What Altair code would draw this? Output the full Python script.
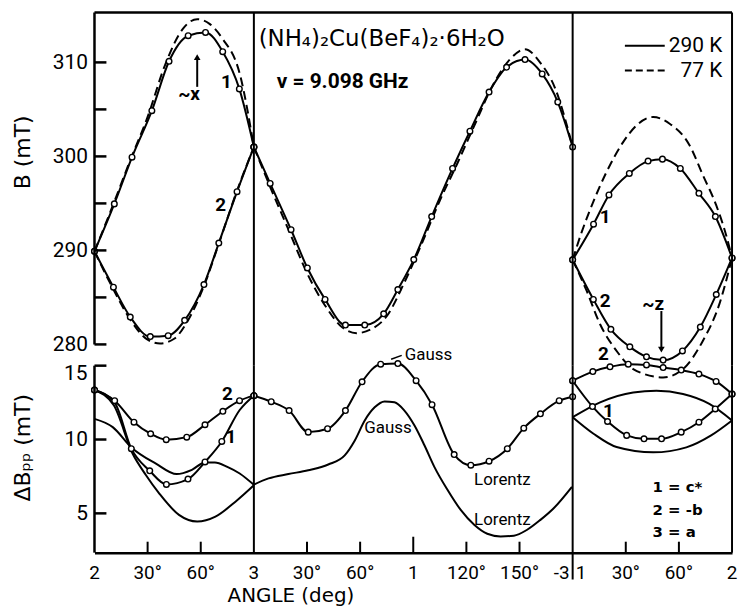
import altair as alt
import pandas as pd

# ---------------------------------------------------------------
# Angle axis (deg): 0-90 = rotation 2->3, 90-270 = 3->1->-3, 270-360 = 1->2
# ---------------------------------------------------------------
# Upper panel: resonance field B (mT)
# 290 K (solid, measured points)
b290_s1_c1_t = [0, 11.2, 21.2, 32.4, 42.1, 52.9, 62.7, 72.4, 81.8, 90]
b290_s1_c1_v = [289.9, 294.95, 299.92, 304.86, 310.12, 312.84, 313.19, 311.14, 307.18, 301.0]
b290_s1_c2_t = [0, 10.7, 20.2, 31.5, 41.6, 50.9, 61.8, 70.2, 80.5, 90]
b290_s1_c2_v = [289.9, 286.09, 282.91, 280.83, 280.93, 282.56, 286.37, 290.78, 296.25, 301.0]
b290_s2_t = [90, 99.2, 111.0, 120.2, 130.2, 141.7, 152.6, 163.3, 171.3, 180.3,
             190.4, 202.2, 212.0, 222.8, 232.7, 243.1, 252.8, 261.6, 270]
b290_s2_v = [301.0, 297.13, 292.20, 288.13, 284.79, 282.06, 282.06, 283.26, 285.84, 289.02,
             293.60, 298.72, 302.68, 306.84, 309.48, 310.30, 308.77, 305.78, 301.0]
b290_s3_c1_t = [270, 281.8, 290.5, 302.0, 312.6, 320.7, 330.8, 341.3, 350.6, 360]
b290_s3_c1_v = [289.0, 292.79, 295.90, 298.19, 299.50, 299.71, 298.72, 296.07, 293.60, 289.2]
b290_s3_c2_t = [270, 281.7, 291.6, 302.3, 311.7, 321.1, 332.0, 342.1, 351.1, 360]
b290_s3_c2_v = [289.0, 284.79, 281.61, 279.74, 278.68, 278.33, 279.31, 281.85, 285.31, 289.2]

# 77 K (dashed)
b77_s1_c1_t = [0, 10, 20, 30, 40, 50, 58, 65, 72, 82, 90]
b77_s1_c1_v = [289.9, 294.6, 299.5, 304.2, 309.8, 313.6, 314.6, 314.1, 312.6, 308.8, 301.0]
b77_s1_c2_t = [0, 10, 20, 30, 37, 45, 52, 62, 70, 80, 90]
b77_s1_c2_v = [289.9, 286.1, 282.7, 280.5, 280.1, 280.6, 282.3, 286.3, 290.6, 296.1, 301.0]
b77_s2_t = [90, 100, 110, 120, 130, 140, 148, 156, 165, 175, 185, 195, 205, 215,
            225, 235, 243, 252, 260, 270]
b77_s2_v = [301.0, 296.4, 292.0, 287.6, 284.2, 281.8, 281.2, 281.6, 283.0, 286.6, 290.8,
            295.3, 299.3, 303.5, 307.6, 310.4, 311.4, 309.9, 307.3, 301.0]
b77_s3_c1_t = [270, 275.2, 281.7, 289.2, 298.6, 306.1, 315.4, 324.8, 336, 343.5, 351, 356.6, 360]
b77_s3_c1_v = [289.0, 292.0, 295.19, 298.37, 301.54, 303.31, 304.19, 303.48, 301.19, 298.02,
               294.84, 291.67, 289.2]
b77_s3_c2_t = [270, 278, 285.5, 294.8, 304.2, 321.1, 332.3, 343.5, 352.8, 360]
b77_s3_c2_v = [289.0, 285.66, 282.14, 279.31, 277.38, 276.49, 277.38, 280.37, 284.26, 289.2]

# Lower panel: line width dBpp (mT)
# measured (circles); marks flag = 1 where a circle is drawn
dpp_s1_c2_t = [0, 11.4, 22.3, 31.7, 40.5, 52.1, 62.4, 72.5, 81.9, 90]
dpp_s1_c2_v = [13.35, 12.63, 11.17, 10.39, 9.99, 10.16, 11.0, 11.91, 12.63, 12.97]
dpp_s1_c1_t = [0, 11.4, 20.8, 31.2, 40.6, 52.8, 62.4, 71.9, 82.0, 90]
dpp_s1_c1_v = [13.35, 12.5, 9.38, 7.88, 6.96, 7.32, 8.48, 9.87, 12.0, 12.97]
dpp_s1_c1_m = [1, 0, 1, 1, 1, 1, 1, 1, 0, 1]
dpp_s2_t = [90, 99.8, 109.9, 120.7, 131.6, 141.7, 151.1, 161.6, 171.3, 181.6,
            190.6, 203.1, 212.5, 222.8, 233.1, 242.4, 251.8, 262.4, 270]
dpp_s2_v = [12.97, 12.56, 11.96, 10.50, 10.73, 11.96, 13.91, 15.10, 15.14, 13.98,
            12.36, 8.98, 8.26, 8.53, 9.38, 10.77, 11.74, 12.63, 12.90]
dpp_s3_c2_t = [270, 281.4, 291.1, 301.4, 311.7, 321.1, 331.3, 341.3, 351.0, 360]
dpp_s3_c2_v = [13.98, 14.60, 14.92, 15.10, 15.05, 14.87, 14.70, 14.43, 13.93, 13.08]
dpp_s3_c1_t = [270, 281.2, 289.7, 300.5, 310.3, 320.2, 331.3, 341.3, 350.5, 360]
dpp_s3_c1_v = [13.98, 12.23, 11.22, 10.28, 10.05, 10.05, 10.50, 11.17, 12.07, 13.08]

# calculated (plain curves, Gauss / Lorentz line shapes)
calc_s1_a_t = [0, 10.3, 21, 34.7, 46.4, 55, 62.4, 68, 75, 82, 90]
calc_s1_a_v = [11.4, 10.84, 9.45, 8.37, 7.66, 7.95, 8.45, 8.45, 8.15, 7.7, 6.93]
calc_s1_b_t = [0, 11, 21.5, 29, 36.5, 47.7, 58, 68.3, 79.6, 90]
calc_s1_b_v = [13.35, 12.3, 9.05, 7.6, 6.36, 4.9, 4.45, 4.78, 5.79, 6.9]
calc_s2_t = [90, 98.3, 109.5, 120.7, 132, 141.3, 147, 152.6, 158.2, 163.8, 169.4, 175,
             180.7, 186.3, 191.9, 199.4, 206.8, 214.4, 221.8, 229.3, 236.8, 244.3,
             251.8, 259.3, 269.6]
calc_s2_v = [6.95, 7.37, 7.66, 7.92, 8.31, 8.93, 9.94, 11.29, 12.18, 12.58, 12.52, 11.96,
             10.95, 9.61, 8.15, 6.58, 5.23, 4.23, 3.62, 3.44, 3.49, 3.89, 4.56, 5.35, 6.80]
calc_s3_up_t = [270, 285.5, 304.2, 317.3, 332.3, 347.2, 360]
calc_s3_up_v = [11.51, 12.52, 13.19, 13.30, 13.08, 12.41, 11.29]
calc_s3_lo_t = [270, 281.8, 294.8, 315.5, 334.2, 348.2, 360]
calc_s3_lo_v = [11.51, 10.39, 9.49, 9.13, 9.47, 10.28, 11.29]

# axes
B_RANGE = [277.74, 315.3]
D_RANGE = [2.34, 15.0]
b_tick_labels = [280, 290, 300, 310]
b_ticks = [280, 285, 290, 295, 300, 305, 310]
d_tick_labels = [5, 10]
d_top_label = 15
d_ticks = [5, 10, 15]
x_label_pos = [0, 30, 60, 90, 120, 150, 180, 210, 240, 300, 330, 360]
x_label_txt = ["2", "30°", "60°", "3", "30°", "60°", "1", "120°", "150°", "30°", "60°", "2"]
x_minor_ticks = [30, 60, 120, 150, 210, 240, 300, 330]
x_major_ticks = [180]
section_bounds = [90, 360]
boundary_pos = 270
boundary_left_txt = "-3"
boundary_right_txt = "1"

# annotations
ann_top = [  # text, t, value
    ("1", 74.5, 307.9), ("2", 71.2, 294.84), ("~x", 53.4, 306.65),
    ("1", 288.3, 293.6), ("2", 288.3, 284.6), ("~z", 315.5, 284.26),
]
title_txt = "(NH₄)₂Cu(BeF₄)₂·6H₂O"
freq_txt = "ν = 9.098 GHz"
legend_items = [("290 K", 311.78), ("77 K", 309.13)]
ann_bot = [("2", 75.1, 13.08), ("1", 77.0, 10.16), ("2", 287.4, 15.77), ("1", 290.2, 11.96)]
ann_shape = [("Gauss", 188.6, 15.73), ("Gauss", 165.7, 10.8), ("Lorentz", 230.3, 7.25),
             ("Lorentz", 230.3, 4.56)]
axes_key = [("1 =  c*", 6.80), ("2 = -b", 5.23), ("3 =  a", 3.77)]

# ---------------------------------------------------------------
W, H1, H2 = 641, 355, 188
FONT = "DejaVu Sans"
NFONT = "Roboto"
LW = 2.0
FW = 2.5


def frame(name, ts, vs, marks=None):
    return pd.DataFrame({"t": ts, "v": vs, "s": name,
                         "m": marks if marks is not None else [1] * len(ts)})


top_solid = pd.concat([
    frame("s1c1", b290_s1_c1_t, b290_s1_c1_v), frame("s1c2", b290_s1_c2_t, b290_s1_c2_v),
    frame("s2", b290_s2_t, b290_s2_v), frame("s3c1", b290_s3_c1_t, b290_s3_c1_v),
    frame("s3c2", b290_s3_c2_t, b290_s3_c2_v)])
top_dash = pd.concat([
    frame("s1c1", b77_s1_c1_t, b77_s1_c1_v), frame("s1c2", b77_s1_c2_t, b77_s1_c2_v),
    frame("s2", b77_s2_t, b77_s2_v), frame("s3c1", b77_s3_c1_t, b77_s3_c1_v),
    frame("s3c2", b77_s3_c2_t, b77_s3_c2_v)])
bot_meas = pd.concat([
    frame("s1c2", dpp_s1_c2_t, dpp_s1_c2_v), frame("s1c1", dpp_s1_c1_t, dpp_s1_c1_v, dpp_s1_c1_m),
    frame("s2", dpp_s2_t, dpp_s2_v), frame("s3c2", dpp_s3_c2_t, dpp_s3_c2_v),
    frame("s3c1", dpp_s3_c1_t, dpp_s3_c1_v)])
bot_calc = pd.concat([
    frame("a", calc_s1_a_t, calc_s1_a_v), frame("b", calc_s1_b_t, calc_s1_b_v),
    frame("c", calc_s2_t, calc_s2_v), frame("u", calc_s3_up_t, calc_s3_up_v),
    frame("l", calc_s3_lo_t, calc_s3_lo_v)])

XS = alt.Scale(domain=[0, 360], nice=False, zero=False)
YT_S = alt.Scale(domain=B_RANGE, nice=False, zero=False)
YB_S = alt.Scale(domain=D_RANGE, nice=False, zero=False)

top_axis = alt.Axis(values=b_tick_labels, domain=False, ticks=False, grid=False,
                    labelFont=NFONT, labelFontSize=21, labelPadding=7, labelColor="black",
                    title="B (mT)", titleFont=FONT, titleFontSize=22, titleFontWeight="normal",
                    titleColor="black", titleX=-72, titleY=140, titleAngle=-90,
                    titleAlign="center", titleBaseline="middle")
bot_axis = alt.Axis(values=d_tick_labels, domain=False, ticks=False, grid=False,
                    labelFont=NFONT, labelFontSize=21, labelPadding=7, labelColor="black",
                    title="ΔBₚₚ (mT)", titleFont=FONT, titleFontSize=22, titleFontWeight="normal",
                    titleColor="black", titleX=-72, titleY=82, titleAngle=-90,
                    titleAlign="center", titleBaseline="middle")
x_axis = alt.Axis(labels=False, ticks=False, grid=False, domain=True, domainColor="black",
                  domainWidth=FW, title="ANGLE  (deg)", titleFont=FONT, titleFontSize=20,
                  titleFontWeight="normal", titleColor="black", titleX=197, titleY=43,
                  titleAlign="center", titleBaseline="middle")

XT = alt.X("t:Q", scale=XS, axis=None)
YT = alt.Y("v:Q", scale=YT_S, axis=top_axis)
XB = alt.X("t:Q", scale=XS, axis=x_axis)
YB = alt.Y("v:Q", scale=YB_S, axis=bot_axis)

# ---------------- top panel ----------------
t_solid = alt.Chart(top_solid).mark_line(color="black", strokeWidth=LW, interpolate="monotone").encode(
    x=XT, y=YT, detail="s:N")
t_dash = alt.Chart(top_dash).mark_line(color="black", strokeWidth=LW, strokeDash=[9, 5],
                                       interpolate="monotone").encode(x=XT, y=YT, detail="s:N")
t_pts = alt.Chart(top_solid).mark_point(shape="circle", filled=True, fill="white", stroke="black",
                                        strokeWidth=1.4, size=32, opacity=1).encode(x=XT, y=YT)
div_df = pd.DataFrame({"t": section_bounds + [boundary_pos]})
t_div = alt.Chart(div_df).mark_rule(color="black", strokeWidth=LW).encode(
    x=XT, y=alt.value(0), y2=alt.value(H1))
t_frame = alt.Chart(pd.DataFrame({"t": [0], "t2": [360]})).mark_rule(color="black", strokeWidth=FW).encode(
    x=XT, x2="t2:Q", y=alt.value(0))
t_left = alt.Chart(pd.DataFrame({"v": [b_ticks[0]], "v2": [B_RANGE[1]]})).mark_rule(
    color="black", strokeWidth=FW).encode(x=alt.value(0), y=YT, y2="v2:Q")
t_ticks = alt.Chart(pd.DataFrame({"v": b_ticks})).mark_rule(color="black", strokeWidth=FW).encode(
    x=alt.value(0), x2=alt.value(12), y=YT)

ann_df = pd.DataFrame(ann_top, columns=["txt", "t", "v"])
t_ann = alt.Chart(ann_df).mark_text(font=NFONT, fontSize=19, fontWeight="bold", color="black",
                                    baseline="middle").encode(x=XT, y=YT, text="txt:N")
t_title = alt.Chart(pd.DataFrame({"txt": [title_txt], "t": [92.7], "v": [312.44]})).mark_text(
    font=FONT, fontSize=23, align="left", baseline="middle", color="black").encode(x=XT, y=YT, text="txt:N")
t_freq = alt.Chart(pd.DataFrame({"txt": [freq_txt], "t": [102.9], "v": [307.89]})).mark_text(
    font=NFONT, fontSize=21, fontWeight="bold", align="left", baseline="middle", color="black").encode(
    x=XT, y=YT, text="txt:N")
leg_df = pd.DataFrame(legend_items, columns=["txt", "v"])
leg_df["t"] = 354.5
leg_df["a"] = 299.5
leg_df["b"] = 322.0
t_leg_txt = alt.Chart(leg_df).mark_text(font=NFONT, fontSize=21, align="right", baseline="middle",
                                        color="black").encode(x=XT, y=YT, text="txt:N")
t_leg_solid = alt.Chart(leg_df.iloc[[0]]).mark_rule(color="black", strokeWidth=LW).encode(
    x=alt.X("a:Q", scale=XS, axis=None), x2="b:Q", y=YT)
t_leg_dash = alt.Chart(leg_df.iloc[[1]]).mark_rule(color="black", strokeWidth=LW, strokeDash=[7, 4]).encode(
    x=alt.X("a:Q", scale=XS, axis=None), x2="b:Q", y=YT)
arrow_df = pd.DataFrame({"t": [58.0, 320.1], "v": [307.4, 283.55], "v2": [310.3, 279.6]})
t_arrow = alt.Chart(arrow_df).mark_rule(color="black", strokeWidth=LW).encode(x=XT, y=YT, y2="v2:Q")
t_head_up = alt.Chart(pd.DataFrame({"t": [58.0], "v": [310.55]})).mark_point(
    shape="triangle-up", filled=True, color="black", size=45, opacity=1).encode(x=XT, y=YT)
t_head_dn = alt.Chart(pd.DataFrame({"t": [320.1], "v": [279.45]})).mark_point(
    shape="triangle-down", filled=True, color="black", size=45, opacity=1).encode(x=XT, y=YT)

top = alt.layer(t_dash, t_solid, t_pts, t_div, t_frame, t_left, t_ticks, t_ann, t_title, t_freq,
                t_leg_txt, t_leg_solid, t_leg_dash, t_arrow, t_head_up, t_head_dn).properties(
    width=W, height=H1)

# ---------------- bottom panel ----------------
b_meas = alt.Chart(bot_meas).mark_line(color="black", strokeWidth=LW, interpolate="monotone").encode(
    x=XB, y=YB, detail="s:N")
b_calc = alt.Chart(bot_calc).mark_line(color="black", strokeWidth=LW, interpolate="monotone").encode(
    x=XB, y=YB, detail="s:N")
b_pts = alt.Chart(bot_meas).transform_filter("datum.m == 1").mark_point(
    shape="circle", filled=True, fill="white", stroke="black", strokeWidth=1.4, size=32, opacity=1).encode(
    x=XB, y=YB)
b_div = alt.Chart(pd.DataFrame({"t": section_bounds})).mark_rule(color="black", strokeWidth=LW).encode(
    x=XB, y=alt.value(0), y2=alt.value(H2))
b_div2 = alt.Chart(pd.DataFrame({"t": [boundary_pos]})).mark_rule(color="black", strokeWidth=LW).encode(
    x=XB, y=alt.value(0), y2=alt.value(H2 + 27))
b_left = alt.Chart(pd.DataFrame({"v": [D_RANGE[0]], "v2": [D_RANGE[1]]})).mark_rule(
    color="black", strokeWidth=FW).encode(x=alt.value(0), y=YB, y2="v2:Q")
b_yticks = alt.Chart(pd.DataFrame({"v": d_ticks})).mark_rule(color="black", strokeWidth=FW).encode(
    x=alt.value(0), x2=alt.value(12), y=YB)
b_toplab = alt.Chart(pd.DataFrame({"v": [d_top_label], "txt": [str(d_top_label)]})).mark_text(
    font=NFONT, fontSize=21, align="right", baseline="top", dy=-3, color="black").encode(
    x=alt.value(-7), y=YB, text="txt:N")
b_minor = alt.Chart(pd.DataFrame({"t": x_minor_ticks})).mark_rule(color="black", strokeWidth=LW).encode(
    x=XB, y=alt.value(H2), y2=alt.value(H2 - 11))
b_major = alt.Chart(pd.DataFrame({"t": x_major_ticks})).mark_rule(color="black", strokeWidth=LW).encode(
    x=XB, y=alt.value(H2), y2=alt.value(H2 - 16))
xl_df = pd.DataFrame({"t": x_label_pos, "txt": x_label_txt})
b_xlab = alt.Chart(xl_df).mark_text(font=NFONT, fontSize=19, baseline="middle", color="black").encode(
    x=XB, y=alt.value(H2 + 20), text="txt:N")
b_xl_l = alt.Chart(pd.DataFrame({"t": [boundary_pos], "txt": [boundary_left_txt]})).mark_text(
    font=NFONT, fontSize=19, baseline="middle", align="right", dx=-3, color="black").encode(
    x=XB, y=alt.value(H2 + 20), text="txt:N")
b_xl_r = alt.Chart(pd.DataFrame({"t": [boundary_pos], "txt": [boundary_right_txt]})).mark_text(
    font=NFONT, fontSize=19, baseline="middle", align="left", dx=3, color="black").encode(
    x=XB, y=alt.value(H2 + 20), text="txt:N")
b_ann = alt.Chart(pd.DataFrame(ann_bot, columns=["txt", "t", "v"])).mark_text(
    font=NFONT, fontSize=19, fontWeight="bold", baseline="middle", color="black").encode(
    x=XB, y=YB, text="txt:N")
b_shape = alt.Chart(pd.DataFrame(ann_shape, columns=["txt", "t", "v"])).mark_text(
    font=NFONT, fontSize=17, baseline="middle", color="black").encode(x=XB, y=YB, text="txt:N")
b_leader = alt.Chart(pd.DataFrame({"t": [167.5], "t2": [173.5], "v": [15.43], "v2": [15.7]})).mark_rule(
    color="black", strokeWidth=1.5).encode(x=XB, x2="t2:Q", y=YB, y2="v2:Q")
key_df = pd.DataFrame(axes_key, columns=["txt", "v"])
key_df["t"] = 315.1
b_key = alt.Chart(key_df).mark_text(font=FONT, fontSize=15, fontWeight="bold", align="left",
                                    baseline="middle", color="black").encode(x=XB, y=YB, text="txt:N")

bottom = alt.layer(b_calc, b_meas, b_pts, b_div, b_div2, b_left, b_yticks, b_toplab, b_minor, b_major,
                   b_xlab, b_xl_l, b_xl_r, b_ann, b_shape, b_leader, b_key).properties(width=W, height=H2)

chart = alt.vconcat(top, bottom, spacing=0, bounds="flush").properties(
    padding={"left": 11, "top": 9, "right": 0, "bottom": 0}, background="white"
).configure_view(stroke=None)

chart.save("out.html", embed_options={"renderer": "svg", "actions": False})
